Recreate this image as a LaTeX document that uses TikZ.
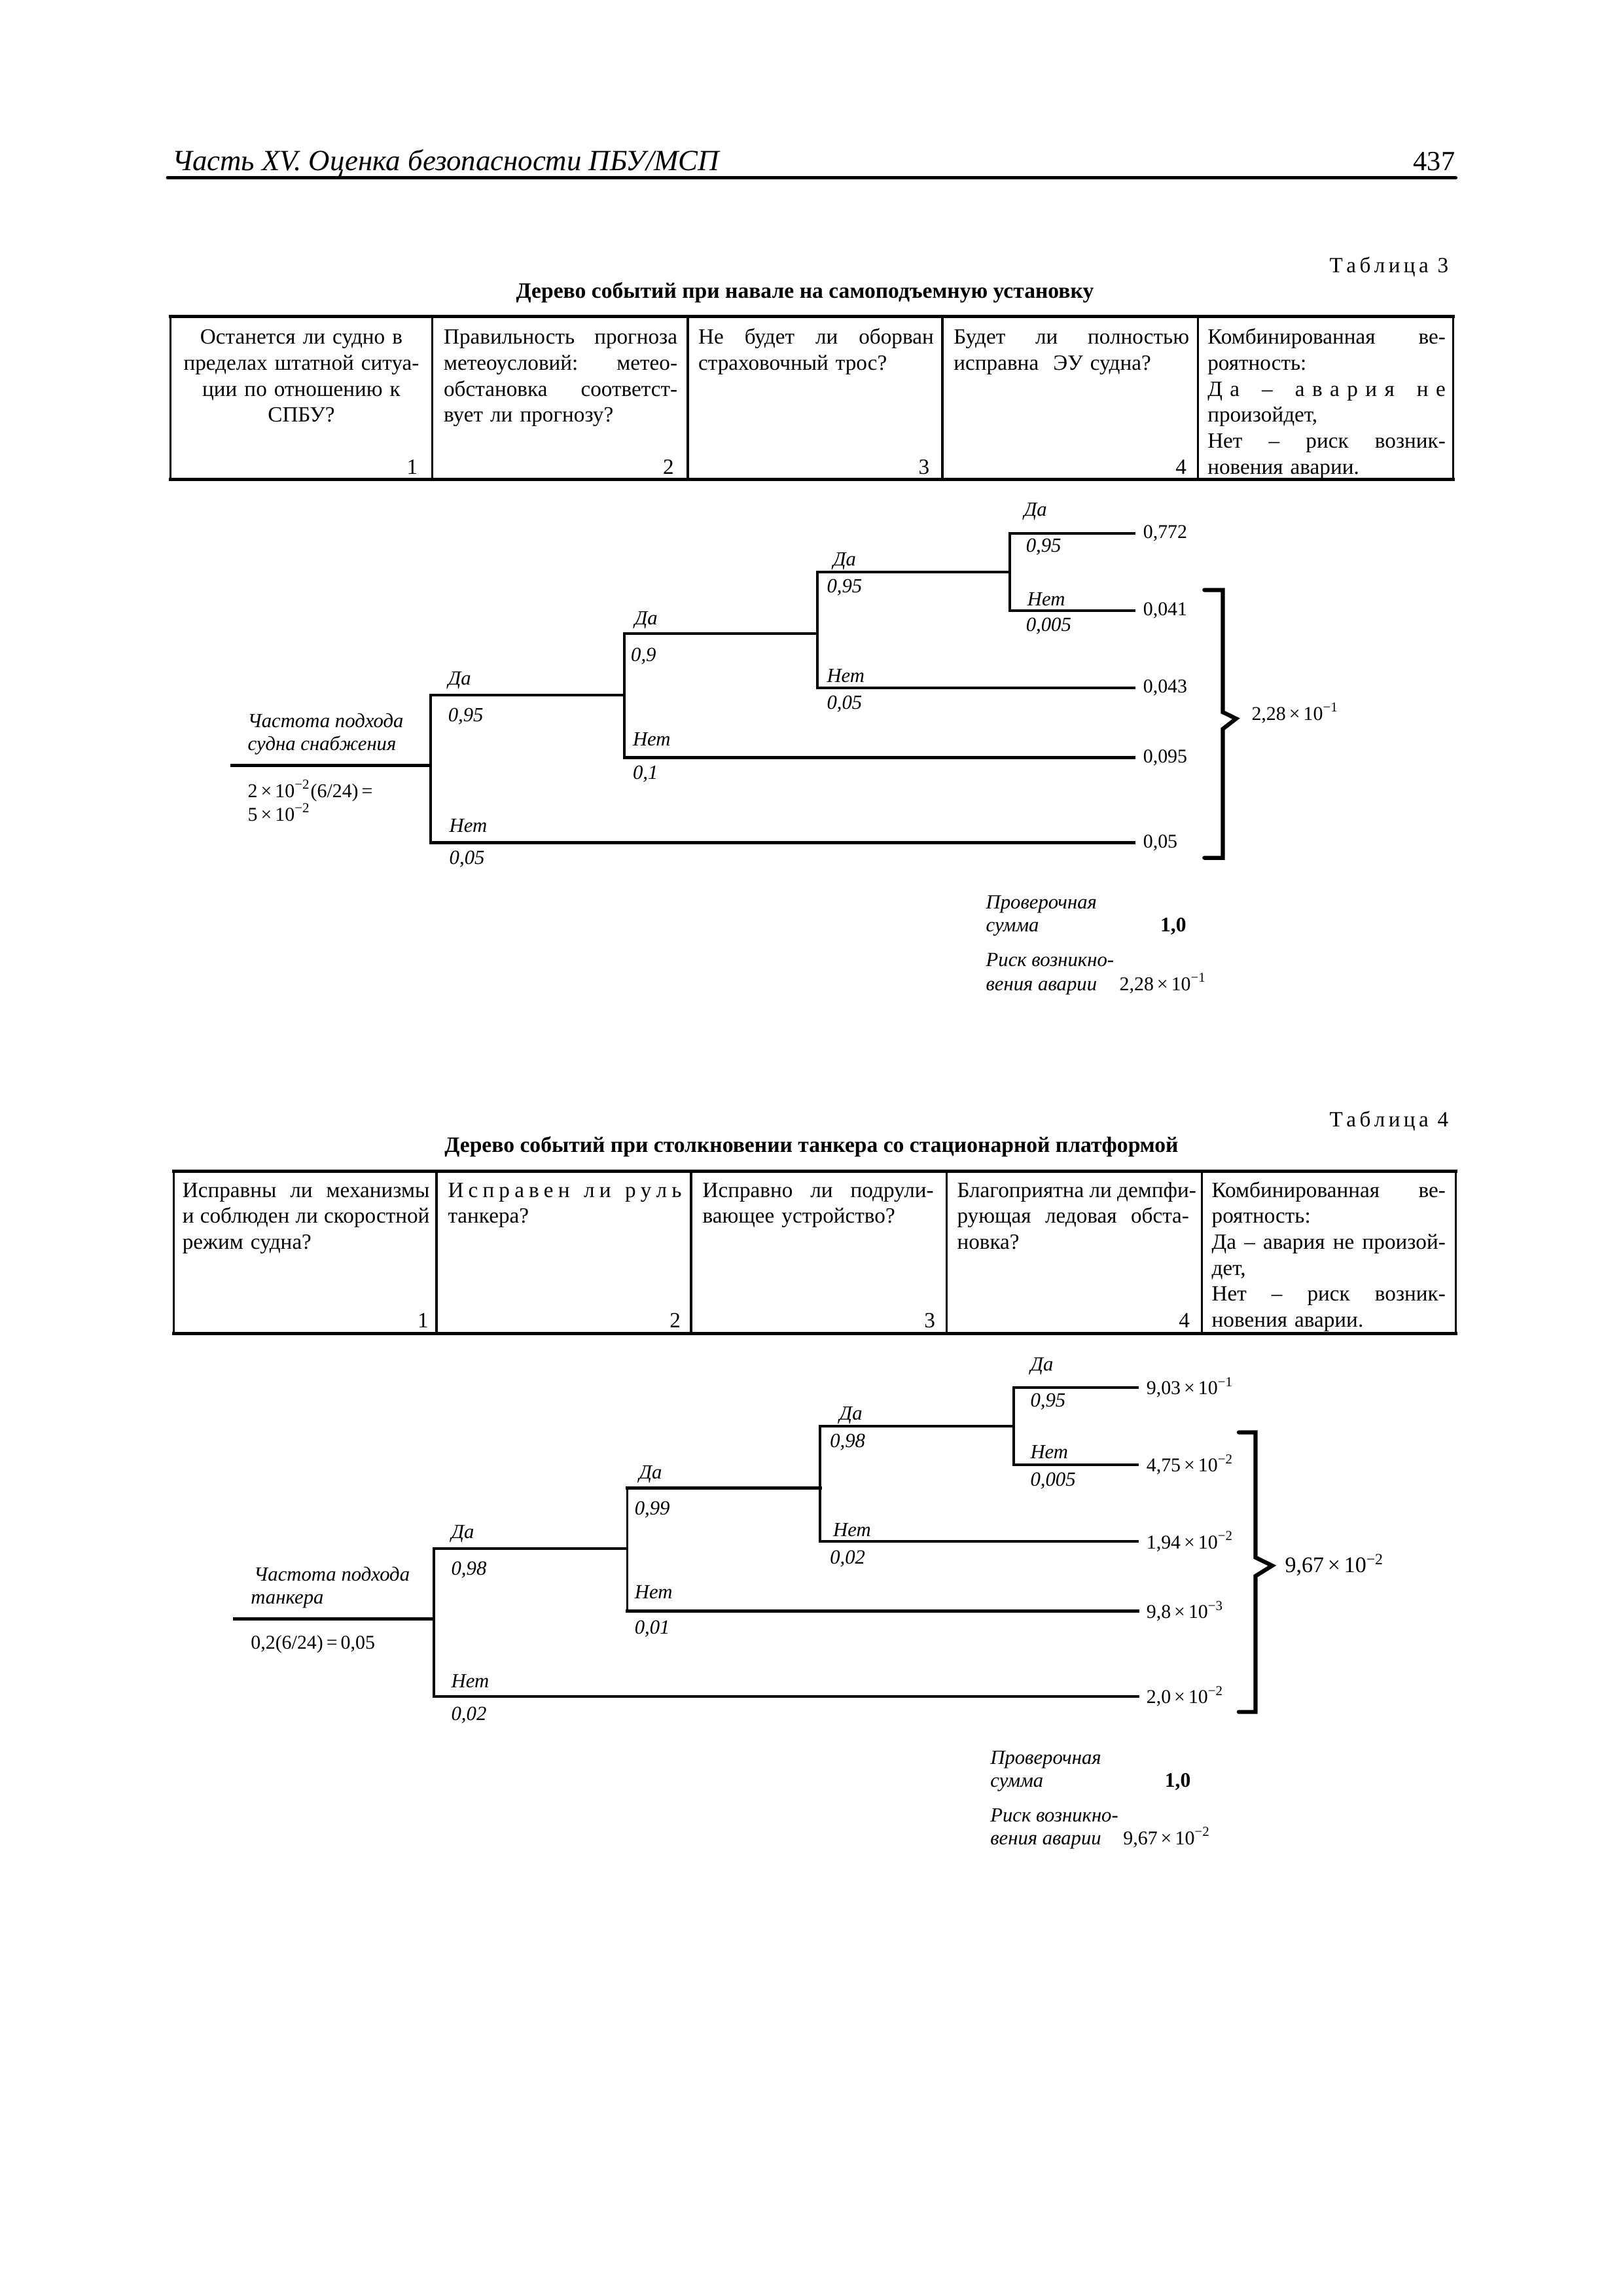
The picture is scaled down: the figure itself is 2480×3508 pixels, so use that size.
\documentclass[tikz,border=0pt]{standalone}
\usepackage{fontspec}
\setmainfont{Liberation Serif}
\newcommand\tabf{\fontsize{8pt}{9.56pt}\selectfont}
\newcommand\labf{\fontsize{7.4pt}{8.4pt}\selectfont\itshape}
\newcommand\valf{\fontsize{7.2pt}{8.4pt}\selectfont}
\newcommand\bigvalf{\fontsize{8.2pt}{9.4pt}\selectfont}
\newcommand\titf{\fontsize{8.1pt}{9.6pt}\selectfont\bfseries}
\newcommand\headf{\fontsize{10.8pt}{12pt}\selectfont\itshape}
\newcommand\tenp[1]{\,×\,10\textsuperscript{#1}}
\newcommand\ls{\kern1.3pt}
\newcommand\jl[1]{\makebox[\hsize][s]{\spaceskip=0.25em plus 1fil\xspaceskip=0.3em plus 1fil\relax #1}}
\newcommand\st{\rule{0pt}{8pt}}
\begin{document}
\begin{tikzpicture}[x=0.2409pt,y=-0.2409pt,
  tl/.style={line width=0.95pt,line cap=rect},
  tlb/.style={line width=1.15pt,line cap=rect},
  tb/.style={line width=1.1pt,line cap=rect},
  tv/.style={line width=0.8pt},
  brc/.style={line width=1.5pt,line join=miter,line cap=round},
  lab/.style={anchor=base west,inner sep=0pt,font=\labf},
  val/.style={anchor=west,inner sep=0pt,font=\valf},
  txt/.style={anchor=base west,inner sep=0pt,font=\valf},
  num/.style={anchor=base east,inner sep=0pt,font=\tabf},
  cellj/.style={anchor=north west,inner sep=0pt,text width=#1,align=left,font=\tabf},
  cellc/.style={anchor=north,inner sep=0pt,text width=#1,align=center,font=\tabf},
  ttl/.style={anchor=base,inner sep=0pt,font=\titf},
  tcap/.style={anchor=base east,inner sep=0pt,font=\tabf}
]
\fill[white] (0,0) rectangle (2480,3508);
\useasboundingbox (0,0) rectangle (2480,3508);

% ---------- page header
\node[anchor=base west,inner sep=0pt,font=\headf] (head) at (262.5,260) {Часть XV. Оценка безопасности ПБУ/МСП};
\node[anchor=base east,inner sep=0pt,font=\fontsize{10.2pt}{12pt}\selectfont] (page) at (2224,260) {437};
\coordinate (HL) at (256,271.5);
\coordinate (HR) at (2224.5,271.5);
\draw[line width=1.2pt,line cap=round] (HL) -- (HR);

% ---------- table 3
\node[tcap] (T3cap) at (2214,416.7) {Т\ls а\ls б\ls л\ls и\ls ц\ls а\ \ls 3};
\node[ttl] (T3title) at (1230,455) {Дерево событий при навале на самоподъемную установку};
\coordinate (T3nw) at (260.2,483.3); \coordinate (T3ne) at (2220.7,483.3);
\coordinate (T3sw) at (260.2,732.7); \coordinate (T3se) at (2220.7,732.7);
\draw[tv] (T3nw) -- (T3sw);
\draw[tv] (T3ne) -- (T3se);
\foreach \i/\xx in {1/660.7,2/1051,3/1440,4/1830.4}{
  \coordinate (T3t\i) at (\xx,483.3); \coordinate (T3b\i) at (\xx,732.7);
  \draw[tv] (T3t\i) -- (T3b\i);}
\draw[tb] (T3nw) -- (T3ne);
\draw[tb] (T3sw) -- (T3se);
\node[cellc=92pt] (T3c1) at (460.5,491.8) {\st Останется ли судно в\\ пределах штатной ситуа-\\ ции по отношению к\\ СПБУ?};
\node[cellj=86pt] (T3c2) at (677.3,491.8) {\st\jl{Правильность прогноза}\\ \jl{метеоусловий: метео-}\\ \jl{обстановка соответст-}\\ вует ли прогнозу?};
\node[cellj=86.65pt] (T3c3) at (1066.3,491.8) {\st\jl{Не будет ли оборван}\\ страховочный трос?};
\node[cellj=86.65pt] (T3c4) at (1456.6,491.8) {\st\jl{Будет ли полностью}\\ исправна\ \ ЭУ судна?};
\node[cellj=87.6pt] (T3c5) at (1844.4,491.8) {\st\jl{Комбинированная ве-}\\ роятность:\\ \jl{Д\hfill а\hfill\hfill\hfill –\hfill\hfill\hfill а\hfill в\hfill а\hfill р\hfill и\hfill я\hfill\hfill\hfill н\hfill е}\\ произойдет,\\ \jl{Нет – риск возник-}\\ новения аварии.};
\node[num] (T3n1) at (639,724) {1};
\node[num] (T3n2) at (1030.6,724) {2};
\node[num] (T3n3) at (1421,724) {3};
\node[num] (T3n4) at (1813.8,724) {4};

% ---------- tree 1
\coordinate (A0) at (354,1169.8);
\coordinate (A1) at (658,1169.8);
\coordinate (A1t) at (658,1061.9); \coordinate (A1b) at (658,1287.7);
\coordinate (A2) at (954,1061.9);
\coordinate (A2t) at (954,968);   \coordinate (A2b) at (954,1157.6);
\coordinate (A3) at (1248.7,968);
\coordinate (A3t) at (1248.7,873.6); \coordinate (A3b) at (1248.7,1051.2);
\coordinate (A4) at (1543,873.6);
\coordinate (A4t) at (1543,815); \coordinate (A4b) at (1543,933);
\coordinate (Ae1) at (1733,815);
\coordinate (Ae2) at (1733,933);
\coordinate (Ae3) at (1733,1051.2);
\coordinate (Ae4) at (1733,1157.6);
\coordinate (Ae5) at (1733,1287.7);
\draw[tlb] (A0) -- (A1);
\draw[tl] (A1t) -- (A1b);
\draw[tl] (A1t) -- (A2);
\draw[tlb] (A1b) -- (Ae5);
\draw[tl] (A2t) -- (A2b);
\draw[tlb] (A2t) -- (A3);
\draw[tlb] (A2b) -- (Ae4);
\draw[tl] (A3t) -- (A3b);
\draw[tl] (A3t) -- (A4);
\draw[tl] (A3b) -- (Ae3);
\draw[tl] (A4t) -- (A4b);
\draw[tl] (A4t) -- (Ae1);
\draw[tl] (A4b) -- (Ae2);

\node[lab] (A1da) at (684,1046.6) {Да};
\node[lab] (A1p) at (684,1102) {0,95};
\node[lab] (A1net) at (685.9,1271.2) {Нет};
\node[lab] (A1q) at (685.9,1320.2) {0,05};
\node[lab] (A2da) at (969,954.7) {Да};
\node[lab] (A2p) at (963.3,1010.2) {0,9};
\node[lab] (A2net) at (966.2,1139.2) {Нет};
\node[lab] (A2q) at (966.2,1190) {0,1};
\node[lab] (A3da) at (1272.3,864) {Да};
\node[lab] (A3p) at (1262.7,905) {0,95};
\node[lab] (A3net) at (1262.7,1042.7) {Нет};
\node[lab] (A3q) at (1262.7,1083) {0,05};
\node[lab] (A4da) at (1564,788.3) {Да};
\node[lab] (A4p) at (1567,843.8) {0,95};
\node[lab] (A4net) at (1569,925.3) {Нет};
\node[lab] (A4q) at (1567,964.3) {0,005};

\node[val] (Av1) at (1746,815) {0,772};
\node[val] (Av2) at (1746,933) {0,041};
\node[val] (Av3) at (1746,1051.2) {0,043};
\node[val] (Av4) at (1746,1157.6) {0,095};
\node[val] (Av5) at (1746,1287.7) {0,05};

\coordinate (Ab1) at (1840.3,901.4); \coordinate (Ab2) at (1868.4,901.4);
\coordinate (Ab3) at (1868.4,1088); \coordinate (Ab4) at (1888.8,1098);
\coordinate (Ab5) at (1868.4,1113.8); \coordinate (Ab6) at (1868.4,1310.7);
\coordinate (Ab7) at (1840.3,1310.7);
\draw[brc] (Ab1) -- (Ab2) -- (Ab3) -- (Ab4) -- (Ab5) -- (Ab6) -- (Ab7);
\node[txt] (Ares) at (1911.7,1100) {2,28\tenp{−1}};

\node[lab] (Aq1) at (377.8,1111.6) {Частота подхода};
\node[lab] (Aq2) at (377.8,1146) {судна снабжения};
\node[txt] (Af1) at (377.8,1218) {2\tenp{−2}(6/24)\,=};
\node[txt] (Af2) at (377.8,1254) {5\tenp{−2}};

\node[lab] (Ak1) at (1505.8,1388.3) {Проверочная};
\node[lab] (Ak2) at (1505.8,1423.3) {сумма};
\node[txt,font=\fontsize{7.6pt}{8.4pt}\selectfont\bfseries] (Ak3) at (1772.3,1423.3) {1,0};
\node[lab] (Ar1) at (1505.8,1476.7) {Риск возникно-};
\node[lab] (Ar2) at (1505.8,1513.3) {вения аварии};
\node[txt] (Ar3) at (1709.8,1513.3) {2,28\tenp{−1}};

% ---------- table 4
\node[tcap] (T4cap) at (2214,1721.7) {Т\ls а\ls б\ls л\ls и\ls ц\ls а\ \ls 4};
\node[ttl] (T4title) at (1240,1760) {Дерево событий при столкновении танкера со стационарной платформой};
\coordinate (T4nw) at (265.3,1789.5); \coordinate (T4ne) at (2224.5,1789.5);
\coordinate (T4sw) at (265.3,2037.3); \coordinate (T4se) at (2224.5,2037.3);
\draw[tv] (T4nw) -- (T4sw);
\draw[tv] (T4ne) -- (T4se);
\foreach \i/\xx in {1/667.1,2/1056.1,3/1446.4,4/1836.7}{
  \coordinate (T4t\i) at (\xx,1789.5); \coordinate (T4b\i) at (\xx,2037.3);
  \draw[tv] (T4t\i) -- (T4b\i);}
\draw[tb] (T4nw) -- (T4ne);
\draw[tb] (T4sw) -- (T4se);
\node[cellj=90.96pt] (T4c1) at (278,1795.1) {\st\jl{Исправны ли механизмы}\\ \jl{и соблюден ли скоростной}\\ режим судна?};
\node[cellj=86pt] (T4c2) at (683.7,1795.1) {\st\jl{И\hfill с\hfill п\hfill р\hfill а\hfill в\hfill е\hfill н\hfill\hfill\hfill л\hfill и\hfill\hfill\hfill р\hfill у\hfill л\hfill ь}\\ танкера?};
\node[cellj=85.1pt] (T4c3) at (1072.7,1795.1) {\st\jl{Исправно ли подрули-}\\ вающее устройство?};
\node[cellj=85.4pt] (T4c4) at (1461.7,1795.1) {\st\jl{Благоприятна ли демпфи-}\\ \jl{рующая ледовая обста-}\\ новка?};
\node[cellj=86.05pt] (T4c5) at (1850.8,1795.1) {\st\jl{Комбинированная ве-}\\ роятность:\\ \jl{Да – авария не произой-}\\ дет,\\ \jl{Нет – риск возник-}\\ новения аварии.};
\node[num] (T4n1) at (655.6,2028.3) {1};
\node[num] (T4n2) at (1040.8,2028.3) {2};
\node[num] (T4n3) at (1429.8,2028.3) {3};
\node[num] (T4n4) at (1818.9,2028.3) {4};

% ---------- tree 2
\coordinate (B0) at (358.7,2473.3);
\coordinate (B1) at (663,2473.3);
\coordinate (B1t) at (663,2366.1); \coordinate (B1b) at (663,2591.9);
\coordinate (B2) at (958.5,2366.1);
\coordinate (B2t) at (958.5,2273.1); \coordinate (B2b) at (958.5,2461.8);
\coordinate (B3) at (1253.2,2273.1);
\coordinate (B3t) at (1253.2,2178.6); \coordinate (B3b) at (1253.2,2355.4);
\coordinate (B4) at (1549,2178.6);
\coordinate (B4t) at (1549,2119.7); \coordinate (B4b) at (1549,2237.9);
\coordinate (Be1) at (1738.5,2119.7);
\coordinate (Be2) at (1738.5,2237.9);
\coordinate (Be3) at (1738.5,2355.4);
\coordinate (Be4) at (1738.5,2461.8);
\coordinate (Be5) at (1738.5,2591.9);
\draw[tlb] (B0) -- (B1);
\draw[tl] (B1t) -- (B1b);
\draw[tl] (B1t) -- (B2);
\draw[tlb] (B1b) -- (Be5);
\draw[tl] (B2t) -- (B2b);
\draw[tlb] (B2t) -- (B3);
\draw[tlb] (B2b) -- (Be4);
\draw[tl] (B3t) -- (B3b);
\draw[tl] (B3t) -- (B4);
\draw[tl] (B3b) -- (Be3);
\draw[tl] (B4t) -- (B4b);
\draw[tl] (B4t) -- (Be1);
\draw[tl] (B4b) -- (Be2);

\node[lab] (B1da) at (688.8,2350.8) {Да};
\node[lab] (B1p) at (688.8,2406.3) {0,98};
\node[lab] (B1net) at (688.8,2578) {Нет};
\node[lab] (B1q) at (688.8,2628) {0,02};
\node[lab] (B2da) at (975.7,2259) {Да};
\node[lab] (B2p) at (969,2314.5) {0,99};
\node[lab] (B2net) at (969,2442.7) {Нет};
\node[lab] (B2q) at (969,2496.2) {0,01};
\node[lab] (B3da) at (1281.9,2169.1) {Да};
\node[lab] (B3p) at (1267.5,2211.1) {0,98};
\node[lab] (B3net) at (1272.3,2347.8) {Нет};
\node[lab] (B3q) at (1267.5,2389.1) {0,02};
\node[lab] (B4da) at (1573.7,2094.4) {Да};
\node[lab] (B4p) at (1573.7,2149.9) {0,95};
\node[lab] (B4net) at (1573.7,2228.4) {Нет};
\node[lab] (B4q) at (1573.7,2270.5) {0,005};

\node[val] (Bv1) at (1751,2119.7) {9,03\tenp{−1}};
\node[val] (Bv2) at (1751,2237.9) {4,75\tenp{−2}};
\node[val] (Bv3) at (1751,2355.4) {1,94\tenp{−2}};
\node[val] (Bv4) at (1751,2461.8) {9,8\tenp{−3}};
\node[val] (Bv5) at (1751,2591.9) {2,0\tenp{−2}};

\coordinate (Bb1) at (1892.9,2188.5); \coordinate (Bb2) at (1918.4,2188.5);
\coordinate (Bb3) at (1918.4,2379.5); \coordinate (Bb4) at (1943.9,2392.1);
\coordinate (Bb5) at (1918.4,2408); \coordinate (Bb6) at (1918.4,2615.6);
\coordinate (Bb7) at (1892.9,2615.6);
\draw[brc] (Bb1) -- (Bb2) -- (Bb3) -- (Bb4) -- (Bb5) -- (Bb6) -- (Bb7);
\node[txt,font=\bigvalf] (Bres) at (1962.8,2402) {9,67\tenp{−2}};

\node[lab] (Bq1) at (387.4,2415.9) {Частота подхода};
\node[lab] (Bq2) at (382.6,2450.3) {танкера};
\node[txt] (Bf1) at (382.6,2519.2) {0,2(6/24)\,=\,0,05};

\node[lab] (Bk1) at (1512.5,2695) {Проверочная};
\node[lab] (Bk2) at (1512.5,2730) {сумма};
\node[txt,font=\fontsize{7.6pt}{8.4pt}\selectfont\bfseries] (Bk3) at (1779,2730) {1,0};
\node[lab] (Br1) at (1512.5,2783.3) {Риск возникно-};
\node[lab] (Br2) at (1512.5,2818.3) {вения аварии};
\node[txt] (Br3) at (1715.6,2818.3) {9,67\tenp{−2}};
\end{tikzpicture}
\end{document}
